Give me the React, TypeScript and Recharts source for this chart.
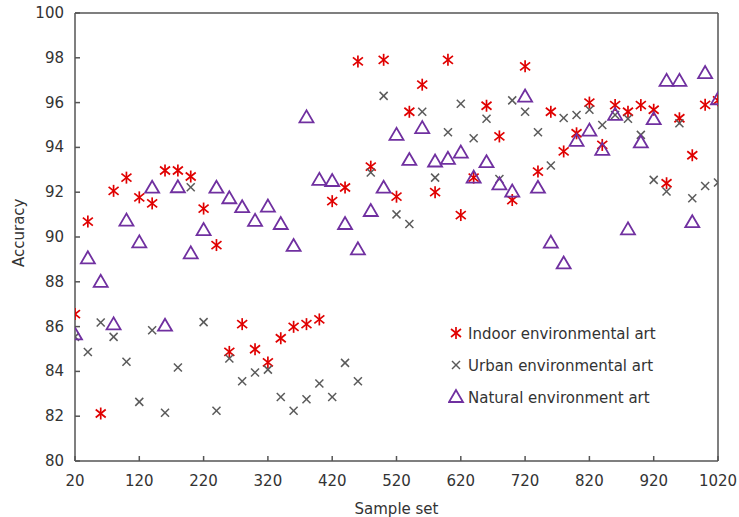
import { ScatterChart, Scatter, XAxis, YAxis, ReferenceLine } from "recharts";

const sampleSets = [20, 40, 60, 80, 100, 120, 140, 160, 180, 200, 220, 240, 260, 280, 300, 320, 340, 360, 380, 400, 420, 440, 460, 480, 500, 520, 540, 560, 580, 600, 620, 640, 660, 680, 700, 720, 740, 760, 780, 800, 820, 840, 860, 880, 900, 920, 940, 960, 980, 1000, 1020];

const indoorArt = [86.56, 90.69, 82.12, 92.06, 92.65, 91.77, 91.5, 92.97, 92.97, 92.7, 91.27, 89.64, 84.87, 86.11, 84.99, 84.4, 85.48, 85.99, 86.11, 86.32, 91.6, 92.21, 97.84, 93.14, 97.91, 91.8, 95.59, 96.8, 92.0, 97.91, 90.98, 92.65, 95.86, 94.49, 91.65, 97.62, 92.92, 95.59, 93.82, 94.63, 96.0, 94.11, 95.89, 95.59, 95.89, 95.68, 92.4, 95.3, 93.65, 95.9, 96.1];

const urbanArt = [85.54, 84.87, 86.18, 85.54, 84.43, 82.64, 85.84, 82.15, 84.17, 92.22, 86.2, 82.24, 84.58, 83.56, 83.95, 84.08, 82.86, 82.24, 82.76, 83.46, 82.86, 84.38, 83.56, 92.88, 96.3, 91.01, 90.58, 95.59, 92.65, 94.68, 95.95, 94.41, 95.28, 92.59, 96.1, 95.59, 94.68, 93.19, 95.31, 95.45, 95.68, 95.0, 95.45, 95.28, 94.56, 92.55, 92.03, 95.08, 91.73, 92.28, 92.43];

const naturalArt = [85.65, 89.05, 88.0, 86.1, 90.73, 89.76, 92.2, 86.04, 92.22, 89.27, 90.31, 92.2, 91.73, 91.33, 90.72, 91.36, 90.58, 89.6, 95.34, 92.55, 92.5, 90.58, 89.45, 91.16, 92.2, 94.56, 93.44, 94.86, 93.37, 93.49, 93.77, 92.65, 93.34, 92.35, 92.03, 96.27, 92.2, 89.75, 88.82, 94.29, 94.75, 93.89, 95.45, 90.34, 94.22, 95.26, 96.97, 96.97, 90.66, 97.32, 96.15];

const xTicks = [20, 120, 220, 320, 420, 520, 620, 720, 820, 920, 1020];
const yTicks = [80, 82, 84, 86, 88, 90, 92, 94, 96, 98, 100];

const toPoints = (vals: number[]) => sampleSets.map((x, i) => ({ x, y: vals[i] }));

const RED = "#e00000";
const GRAY = "#5a5a5a";
const PURPLE = "#7030a0";
const AXIS = "#555555";
const FONT = "'DejaVu Sans', Verdana, sans-serif";

function Asterisk({ cx, cy }: any) {
  const r = 5;
  return (
    <g stroke={RED} strokeWidth={1.7}>
      <line x1={cx - r} y1={cy - r + 1} x2={cx + r} y2={cy + r - 1} />
      <line x1={cx - r} y1={cy + r - 1} x2={cx + r} y2={cy - r + 1} />
      <line x1={cx} y1={cy - r - 1} x2={cx} y2={cy + r + 1} />
    </g>
  );
}

function Cross({ cx, cy }: any) {
  const r = 4;
  return (
    <g stroke={GRAY} strokeWidth={1.5}>
      <line x1={cx - r} y1={cy - r} x2={cx + r} y2={cy + r} />
      <line x1={cx - r} y1={cy + r} x2={cx + r} y2={cy - r} />
    </g>
  );
}

function Triangle({ cx, cy }: any) {
  return (
    <polygon
      points={`${cx},${cy - 7} ${cx - 7},${cy + 5} ${cx + 7},${cy + 5}`}
      fill="none"
      stroke={PURPLE}
      strokeWidth={1.8}
    />
  );
}

function XTick({ x, y, payload }: any) {
  return (
    <g>
      <line x1={x} y1={y} x2={x} y2={y - 5} stroke={AXIS} strokeWidth={1.5} />
      <text x={x} y={y + 25} textAnchor="middle" fontSize={15} fill="#333" fontFamily={FONT}>
        {payload.value}
      </text>
    </g>
  );
}

function YTick({ x, y, payload }: any) {
  return (
    <g>
      <line x1={x} y1={y} x2={x + 5} y2={y} stroke={AXIS} strokeWidth={1.5} />
      <text x={x - 11} y={y + 5} textAnchor="end" fontSize={15} fill="#333" fontFamily={FONT}>
        {payload.value}
      </text>
    </g>
  );
}

const legendItems = [
  { name: "Indoor environmental art", Shape: Asterisk },
  { name: "Urban environmental art", Shape: Cross },
  { name: "Natural environment art", Shape: Triangle },
];

function LegendBox() {
  return (
    <svg width={240} height={100} style={{ position: "absolute", left: 448, top: 318 }}>
      {legendItems.map((it, i) => (
        <g key={it.name}>
          <it.Shape cx={8} cy={15 + i * 32} />
          <text x={20} y={21 + i * 32} fontSize={15} fill="#333" fontFamily={FONT}>
            {it.name}
          </text>
        </g>
      ))}
    </svg>
  );
}

export default function App() {
  return (
    <div style={{ position: "absolute", left: 0, top: 0, width: 739, height: 517, background: "#fff" }}>
      <ScatterChart width={739} height={517} margin={{ top: 13, right: 21, bottom: 0, left: 0 }}>
        <XAxis
          type="number"
          dataKey="x"
          domain={[20, 1020]}
          ticks={xTicks}
          height={56}
          tickSize={0}
          tickMargin={0}
          tick={<XTick />}
          stroke={AXIS}
          strokeWidth={1.5}
          allowDataOverflow
          label={{ value: "Sample set", position: "insideBottom", offset: 3, fontSize: 15, fill: "#333", fontFamily: FONT }}
        />
        <YAxis
          type="number"
          dataKey="y"
          domain={[80, 100]}
          ticks={yTicks}
          width={75}
          tickSize={0}
          tickMargin={0}
          tick={<YTick />}
          stroke={AXIS}
          strokeWidth={1.5}
          allowDataOverflow
          label={{ value: "Accuracy", angle: -90, position: "insideLeft", offset: 19, dy: 30, fontSize: 15, fill: "#333", fontFamily: FONT }}
        />
        <ReferenceLine y={100} stroke={AXIS} strokeWidth={1.5} />
        <ReferenceLine x={1020} stroke={AXIS} strokeWidth={1.5} />
        <Scatter name="Indoor environmental art" data={toPoints(indoorArt)} shape={<Asterisk />} isAnimationActive={false} />
        <Scatter name="Urban environmental art" data={toPoints(urbanArt)} shape={<Cross />} isAnimationActive={false} />
        <Scatter name="Natural environment art" data={toPoints(naturalArt)} shape={<Triangle />} isAnimationActive={false} />
      </ScatterChart>
      <LegendBox />
    </div>
  );
}
